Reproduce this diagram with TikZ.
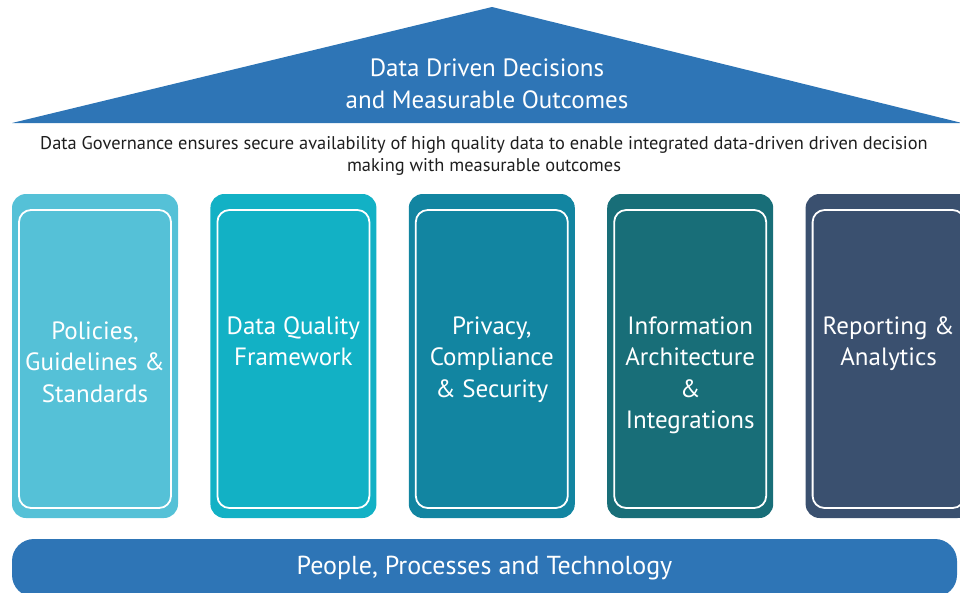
\documentclass[tikz,border=0pt]{standalone}
\usepackage{fontspec}
\setmainfont{PT Sans}
\usepackage{tikz}
\usepackage{xcolor}
\usetikzlibrary{positioning}
\definecolor{roofblue}{RGB}{46,117,182}
\definecolor{pillarA}{RGB}{85,193,215}
\definecolor{pillarB}{RGB}{18,177,197}
\definecolor{pillarC}{RGB}{18,133,161}
\definecolor{pillarD}{RGB}{24,110,120}
\definecolor{pillarE}{RGB}{58,80,111}
\definecolor{captiongray}{RGB}{30,30,30}
\tikzstyle{pillar} = [rectangle, rounded corners=14pt, minimum width=166pt, minimum height=324pt, inner sep=0pt, draw=none]
\tikzstyle{frame} = [rectangle, rounded corners=12pt, minimum width=152pt, minimum height=298pt, inner sep=0pt, draw=white, line width=1.8pt, fill=none, yshift=-3pt]
\tikzstyle{pillartext} = [text=white, align=center, anchor=north, inner sep=0pt, font=\fontsize{25}{31.5}\selectfont]
\tikzstyle{basebar} = [rectangle, rounded corners=22pt, minimum width=945pt, minimum height=58pt, fill=roofblue, text=white, font=\fontsize{26}{30}\selectfont]

\begin{document}
\begin{tikzpicture}[x=1pt, y=-1pt, node distance=32pt]
        \useasboundingbox (0,0) rectangle (960,592);

        % roof
        \coordinate (apex) at (492,7);
        \coordinate (roofleft) at (12,123);
        \coordinate (roofright) at (962,123);
        \fill [roofblue] (roofleft) -- (apex) -- (roofright) -- cycle;
        \node (roofcaption) [text=white, align=center, font=\fontsize{25}{32}\selectfont] at (487,84) {Data Driven Decisions\\ and Measurable Outcomes};

        \node (tagline) [text=captiongray, align=center, font=\fontsize{18.4}{22}\selectfont] at (484,156) {Data Governance ensures secure availability of high quality data to enable integrated data-driven driven decision\\ making with measurable outcomes};

        % pillars
        \node (pillar1) [pillar, fill=pillarA] at (95,356) {};
        \node (pillar2) [pillar, fill=pillarB, right=of pillar1] {};
        \node (pillar3) [pillar, fill=pillarC, right=of pillar2] {};
        \node (pillar4) [pillar, fill=pillarD, right=of pillar3] {};
        \node (pillar5) [pillar, fill=pillarE, right=of pillar4] {};

        \node (frame1) [frame] at (pillar1.center) {};
        \node (frame2) [frame] at (pillar2.center) {};
        \node (frame3) [frame] at (pillar3.center) {};
        \node (frame4) [frame] at (pillar4.center) {};
        \node (frame5) [frame] at (pillar5.center) {};

        \node (label1) [pillartext] at ([yshift=-112pt]frame1.north) {Policies,\\ Guidelines \&\\ Standards};
        \node (label2) [pillartext] at ([yshift=-107pt]frame2.north) {Data Quality\\ Framework};
        \node (label3) [pillartext] at ([yshift=-107pt]frame3.north) {Privacy,\\ Compliance\\ \& Security};
        \node (label4) [pillartext] at ([yshift=-107pt]frame4.north) {Information\\ Architecture\\ \&\\ Integrations};
        \node (label5) [pillartext] at ([yshift=-107pt]frame5.north) {Reporting \&\\ Analytics};

        % foundation
        \node (foundation) [basebar] at (484.5,568) {People, Processes and Technology};

    \end{tikzpicture}
\end{document}
